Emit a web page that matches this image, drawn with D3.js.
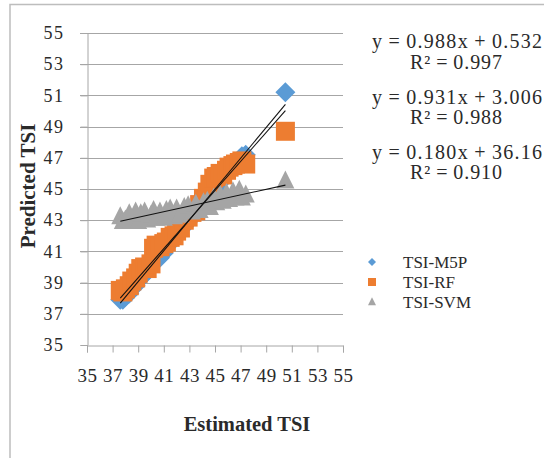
<!DOCTYPE html>
<html><head><meta charset="utf-8">
<script src="https://cdn.jsdelivr.net/npm/d3@7"></script>
<style>body{margin:0;background:#fff}svg{display:block}</style>
</head><body>
<script>
const xTicks = [35,37,39,41,43,45,47,49,51,53,55];
const yTicks = [35,37,39,41,43,45,47,49,51,53,55];
const seriesNames = ["TSI-M5P","TSI-RF","TSI-SVM"];
const colors = ["#5B9BD5","#ED7D31","#A5A5A5"];
const estX = [37.6,37.8,38.0,38.3,38.5,38.8,39.0,39.2,39.5,39.7,40.0,40.2,40.4,40.7,41.0,41.2,41.5,41.8,42.0,42.3,42.6,42.9,43.2,43.5,43.8,44.1,44.4,44.6,44.9,45.1,45.4,45.6,45.9,46.1,46.4,46.6,46.9,47.1,47.4,50.5];
const m5pY = [37.9,37.9,38.1,38.3,38.6,38.8,39.1,39.3,39.5,39.8,40.1,40.3,40.5,40.6,40.9,41.3,41.5,41.8,42.1,42.4,42.6,42.9,43.2,43.6,43.9,44.2,44.4,44.7,45.0,45.1,45.4,45.7,46.0,46.2,46.4,46.6,46.9,47.1,47.2,51.2];
const rfY = [38.5,38.4,38.6,38.8,39.1,39.3,39.6,39.9,40.0,39.9,40.2,41.2,41.4,41.3,41.5,41.6,41.9,42.0,42.3,42.5,43.0,43.2,43.5,43.6,44.0,44.4,44.8,45.3,45.7,45.8,46.0,45.9,46.2,46.4,46.5,46.6,46.7,46.8,46.6,48.7];
const svmY = [43.2,42.9,43.0,43.4,43.0,43.5,42.9,43.4,43.5,43.0,43.3,43.6,43.1,43.5,43.1,43.6,43.7,43.2,43.7,43.3,43.8,43.9,43.5,44.0,43.6,44.1,44.2,43.8,44.4,44.1,44.6,44.2,44.7,44.3,44.8,44.4,44.9,44.4,44.6,45.5];
const slopes = [0.988,0.931,0.180];
const intercepts = [0.532,3.006,36.16];
const eqTexts = ["y\u2009=\u20090.988x\u2009+\u20090.532","y\u2009=\u20090.931x\u2009+\u20093.006","y\u2009=\u20090.180x\u2009+\u200936.16"];
const r2Texts = ["R²\u2009=\u20090.997","R²\u2009=\u20090.988","R²\u2009=\u20090.910"];

const W=544,H=458;
const svg=d3.select("body").append("svg").attr("width",W).attr("height",H);
svg.append("rect").attr("width",W).attr("height",H).attr("fill","#fff");
svg.append("rect").attr("x",10).attr("y",4.5).attr("width",W+10).attr("height",H+10)
  .attr("fill","none").attr("stroke","#bdbdbd").attr("stroke-width",1.5);

const x=d3.scaleLinear().domain([35,55]).range([87,343]);
const y=d3.scaleLinear().domain([35,55]).range([345,33]);
const serif="'Liberation Serif','Times New Roman',serif";
const grid="#a6a6a6";
const txt="#2a2a2a";

svg.append("g").selectAll("line").data(yTicks.filter(d=>d>35)).join("line")
  .attr("x1",80).attr("x2",343).attr("y1",d=>Math.round(y(d))+0.5).attr("y2",d=>Math.round(y(d))+0.5)
  .attr("stroke",grid).attr("stroke-width",1);

const yAxis=svg.append("g").attr("transform","translate(87.5,0)")
  .call(d3.axisLeft(y).tickValues(yTicks).tickSize(7).tickPadding(16).tickFormat(d3.format("d")));
yAxis.select(".domain").attr("stroke",grid);
yAxis.selectAll(".tick line").attr("stroke",grid);
yAxis.selectAll("text").attr("font-family",serif).attr("font-size",18).attr("fill",txt).attr("letter-spacing","1.5px");

const xAxis=svg.append("g").attr("transform","translate(0,345.5)")
  .call(d3.axisBottom(x).tickValues(xTicks).tickSize(7).tickPadding(16).tickFormat(d3.format("d")));
xAxis.select(".domain").attr("stroke",grid);
xAxis.selectAll(".tick line").attr("stroke",grid);
xAxis.selectAll("text").attr("font-family",serif).attr("font-size",19).attr("fill",txt).attr("letter-spacing","0.5px");

const markerSize=[20,19,18];
const dataSets=[m5pY,rfY,svmY];

function drawMarker(g,type,cx,cy,s,color){
  if(type===0){
    g.append("path").attr("d",`M${cx},${cy-s/2}L${cx+s/2},${cy}L${cx},${cy+s/2}L${cx-s/2},${cy}Z`).attr("fill",color);
  } else if(type===1){
    g.append("rect").attr("x",cx-s/2).attr("y",cy-s/2).attr("width",s).attr("height",s).attr("fill",color);
  } else {
    g.append("path").attr("d",`M${cx},${cy-s*0.6}L${cx+s*0.5},${cy+s*0.4}L${cx-s*0.5},${cy+s*0.4}Z`).attr("fill",color);
  }
}

dataSets.forEach((ys,i)=>{
  const g=svg.append("g");
  ys.forEach((v,j)=>drawMarker(g,i,x(estX[j]),y(v),markerSize[i],colors[i]));
});

const xMin=d3.min(estX), xMax=d3.max(estX);
slopes.forEach((m,i)=>{
  svg.append("line").attr("x1",x(xMin)).attr("x2",x(xMax))
    .attr("y1",y(m*xMin+intercepts[i])).attr("y2",y(m*xMax+intercepts[i]))
    .attr("stroke","#111").attr("stroke-width",1.1);
});

const eqY=[[42,63],[98,118],[153,173]];
eqTexts.forEach((t,i)=>{
  svg.append("text").attr("x",457).attr("y",eqY[i][0]+6).attr("text-anchor","middle")
    .attr("font-family",serif).attr("font-size",20).attr("fill",txt)
    .attr("textLength",170).attr("lengthAdjust","spacing").text(t);
  svg.append("text").attr("x",456).attr("y",eqY[i][1]+6).attr("text-anchor","middle")
    .attr("font-family",serif).attr("font-size",20).attr("fill",txt)
    .attr("textLength",92).attr("lengthAdjust","spacing").text(r2Texts[i]);
});

const legY=[262,282,302];
seriesNames.forEach((n,i)=>{
  const g=svg.append("g");
  drawMarker(g,i,372,legY[i],8,colors[i]);
  svg.append("text").attr("x",403).attr("y",legY[i]+6).attr("font-family",serif)
    .attr("font-size",17).attr("fill",txt).text(n);
});

svg.append("text").attr("x",247).attr("y",431).attr("text-anchor","middle")
  .attr("font-family",serif).attr("font-weight","bold").attr("font-size",20.5).attr("fill",txt).text("Estimated TSI");
svg.append("text").attr("transform","translate(35,186) rotate(-90)").attr("text-anchor","middle")
  .attr("font-family",serif).attr("font-weight","bold").attr("font-size",21).attr("fill",txt).text("Predicted TSI");
</script>
</body></html>
